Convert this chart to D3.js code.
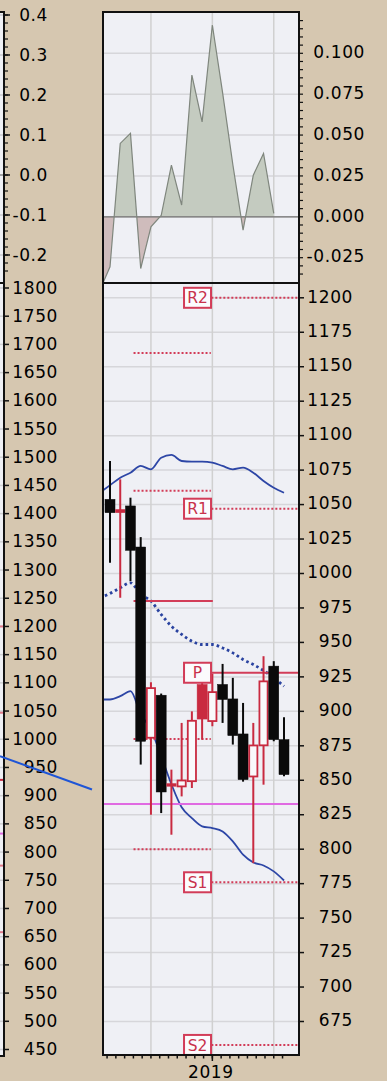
<!DOCTYPE html>
<html>
<head>
<meta charset="utf-8">
<script src="https://cdn.jsdelivr.net/npm/d3@7"></script>
<style>
  html, body { margin: 0; padding: 0; background: #d6c7b0; }
  svg { display: block; }
  text { font-family: "DejaVu Sans", Verdana, sans-serif; }
</style>
</head>
<body>
<svg id="chart" width="387" height="1081"></svg>
<script>
// ---- price candles (one per period, period 0..17) ----
const candleOpen  = [1053.8, 1044.0, 1049.0, 1019.2, 880.2, 911.7, 846.0, 844.9, 848.7, 919.5, 892.3, 919.5, 909.0, 883.6, 852.1, 874.7, 932.8, 879.5];
const candleHigh  = [1081.6, 1068.3, 1055.0, 1026.4, 921.1, 912.9, 857.7, 891.6, 900.0, 921.9, 927.2, 934.4, 924.3, 906.1, 891.6, 940.0, 936.4, 895.7];
const candleLow   = [1007.8, 982.4, 994.5, 861.4, 825.0, 826.2, 810.5, 838.3, 844.4, 879.5, 889.2, 891.6, 875.9, 849.0, 789.9, 846.8, 878.3, 852.9];
const candleClose = [1044.1, 1046.6, 1016.8, 878.3, 917.5, 841.5, 847.8, 850.5, 893.8, 894.4, 914.6, 908.6, 882.4, 850.5, 875.9, 922.4, 879.5, 854.1];

// ---- Bollinger bands, starting at period -1 ----
const bandStart  = -1;
const bandUpper  = [1058.5, 1064.0, 1069.5, 1073.1, 1078.0, 1075.6, 1084.0, 1086.0, 1081.6, 1081.1, 1081.1, 1080.4, 1078.0, 1075.6, 1076.8, 1073.1, 1067.1, 1062.2, 1058.6];
const bandMiddle = [982.2, 985.5, 989.6, 993.2, 984.8, 980.0, 970.3, 961.8, 955.8, 950.9, 948.5, 948.5, 946.0, 942.4, 937.6, 934.0, 929.6, 924.3, 918.2];
const bandLower  = [908.6, 908.6, 911.0, 914.6, 897.9, 887.0, 867.4, 847.1, 830.4, 822.6, 816.6, 815.3, 812.9, 805.7, 796.0, 790.4, 788.2, 783.9, 777.3];

// ---- oscillator, starting at period -1 ----
const oscStart  = -1;
const oscValues = [-0.045, -0.0306, 0.0449, 0.0510, -0.0316, -0.0061, 0.0008, 0.0316, 0.0072, 0.0867, 0.0581, 0.1173, 0.076, 0.032, -0.0081, 0.0255, 0.0388, 0.0021];

// ---- pivot levels ----
const pivotNames    = ["R2", "R1", "P", "S1", "S2"];
const pivotCurrent  = [1200, 1047, 928, 776, 658];
const pivotPrevious = [1160, 1060, 980, 880, 800];
const previousSpan  = [2.3, 9.85];
const currentSpan   = [9.9, 18.6];
const supportLevel  = 832.8;

// ---- axes ----
const gridPeriods  = [4, 10, 16];
const yearPeriods  = [10];
const yearLabels   = ["2019"];
const priceTicks   = d3.range(675, 1201, 25);
const oscTicks     = [-0.025, 0, 0.025, 0.05, 0.075, 0.1];
const leftOscTicks   = [-0.2, -0.1, 0, 0.1, 0.2, 0.3, 0.4];
const leftPriceTicks = d3.range(450, 1801, 50);

// ---- trend line of the neighbouring chart ----
const trendPos   = [0, 1];
const trendValue = [970, 911];

// ================= drawing =================
const svg = d3.select("#chart");
const RED = "#c92a40", BLACK = "#0a0a0a", PIV = "#d23c58", INK = "#000";
const panel = { left: 103, right: 299, top: 12, split: 283, bottom: 1055 };

const x = d3.scaleLinear().domain([0, 17]).range([110, 284]);
const yOsc = d3.scaleLinear().domain([-0.025, 0.1]).range([257.7, 53.3]);
const yPrice = d3.scaleLinear().domain([675, 1200]).range([1021.5, 297.8]);
const yLeftOsc = d3.scaleLinear().domain([-0.2, 0.4]).range([255, 15]);
const yLeftPrice = d3.scaleLinear().domain([450, 1800]).range([1049.5, 288]);
const xTrend = d3.scaleLinear().domain([0, 1]).range([0, 92]);

const hyphen = s => s.replace("\u2212", "-");
const fmtOsc = v => hyphen(d3.format(".3f")(v));
const fmtLeftOsc = v => hyphen(d3.format(".1f")(v));

const defs = svg.append("defs");
function clip(id, x0, y0, x1, y1) {
  defs.append("clipPath").attr("id", id).append("rect")
    .attr("x", x0).attr("y", y0).attr("width", x1 - x0).attr("height", y1 - y0);
}
clip("oscClip", panel.left, panel.top, panel.right, panel.split);
clip("priceClip", panel.left, panel.split, panel.right, panel.bottom);
clip("posClip", panel.left, panel.top, panel.right, yOsc(0));
clip("negClip", panel.left, yOsc(0), panel.right, panel.split);

// panel background
svg.append("rect").attr("x", panel.left).attr("y", panel.top)
  .attr("width", panel.right - panel.left).attr("height", panel.bottom - panel.top)
  .attr("fill", "#eff0f5");

// ---------- oscillator panel ----------
const gOsc = svg.append("g").attr("clip-path", "url(#oscClip)");
gOsc.selectAll(".hg").data(oscTicks).join("line")
  .attr("x1", panel.left).attr("x2", panel.right)
  .attr("y1", d => yOsc(d)).attr("y2", d => yOsc(d))
  .attr("stroke", "#d6d6da").attr("stroke-width", 1.5);
gOsc.selectAll(".vg").data(gridPeriods).join("line")
  .attr("x1", d => x(d)).attr("x2", d => x(d))
  .attr("y1", panel.top).attr("y2", panel.split)
  .attr("stroke", "#d0d0d0").attr("stroke-width", 1.5);

const oscPts = oscValues.map((v, k) => ({ i: oscStart + k, v }));
const oscArea = d3.area().x(d => x(d.i)).y0(yOsc(0)).y1(d => yOsc(d.v));
gOsc.append("g").attr("clip-path", "url(#posClip)")
  .append("path").attr("d", oscArea(oscPts)).attr("fill", "#c4cbc0");
gOsc.append("g").attr("clip-path", "url(#negClip)")
  .append("path").attr("d", oscArea(oscPts)).attr("fill", "#cfbcbc");
gOsc.append("line").attr("x1", panel.left).attr("x2", panel.right)
  .attr("y1", yOsc(0)).attr("y2", yOsc(0)).attr("stroke", "#707070").attr("stroke-width", 1.2);
gOsc.append("path").attr("d", d3.line().x(d => x(d.i)).y(d => yOsc(d.v))(oscPts))
  .attr("fill", "none").attr("stroke", "#7f867d").attr("stroke-width", 1.2);

// ---------- price panel ----------
const gP = svg.append("g").attr("clip-path", "url(#priceClip)");
gP.selectAll(".hg").data(priceTicks).join("line")
  .attr("x1", panel.left).attr("x2", panel.right)
  .attr("y1", d => yPrice(d)).attr("y2", d => yPrice(d))
  .attr("stroke", "#d6d6da").attr("stroke-width", 1.5);
gP.selectAll(".vg").data(gridPeriods).join("line")
  .attr("x1", d => x(d)).attr("x2", d => x(d))
  .attr("y1", panel.split).attr("y2", panel.bottom)
  .attr("stroke", "#d0d0d0").attr("stroke-width", 1.5);

// Bollinger bands
const bandLine = d3.line().x(d => x(d.i)).y(d => yPrice(d.v)).curve(d3.curveMonotoneX);
const toPts = arr => arr.map((v, k) => ({ i: bandStart + k, v }));
gP.append("path").attr("d", bandLine(toPts(bandUpper)))
  .attr("fill", "none").attr("stroke", "#2d46a6").attr("stroke-width", 1.8);
gP.append("path").attr("d", bandLine(toPts(bandLower)))
  .attr("fill", "none").attr("stroke", "#2d46a6").attr("stroke-width", 1.8);
gP.append("path").attr("d", bandLine(toPts(bandMiddle)))
  .attr("fill", "none").attr("stroke", "#2a43a0").attr("stroke-width", 2.8)
  .attr("stroke-dasharray", "2.6,3");

// pivot levels of the previous period
pivotPrevious.forEach((v, k) => {
  const solid = pivotNames[k] === "P";
  gP.append("line")
    .attr("x1", x(previousSpan[0])).attr("x2", x(previousSpan[1]) + (solid ? 2 : 0))
    .attr("y1", yPrice(v)).attr("y2", yPrice(v))
    .attr("stroke", PIV).attr("stroke-width", 2)
    .attr("stroke-dasharray", solid ? null : "2,2");
});

// support line
gP.append("line").attr("x1", panel.left).attr("x2", panel.right)
  .attr("y1", yPrice(supportLevel)).attr("y2", yPrice(supportLevel))
  .attr("stroke", "#e06ae2").attr("stroke-width", 2);

// pivot levels of the current period
pivotCurrent.forEach((v, k) => {
  const solid = pivotNames[k] === "P";
  gP.append("line")
    .attr("x1", x(currentSpan[0])).attr("x2", x(currentSpan[1]))
    .attr("y1", yPrice(v)).attr("y2", yPrice(v))
    .attr("stroke", PIV).attr("stroke-width", 2)
    .attr("stroke-dasharray", solid ? null : "2,2");
});

// candles
const candles = candleOpen.map((o, i) => {
  const ref = i === 0 ? o : candleClose[i - 1];
  const close = candleClose[i];
  return { i, open: o, high: candleHigh[i], low: candleLow[i], close,
           color: close >= ref ? RED : BLACK, hollow: close > o };
});
const bodyW = 10;
const gC = gP.append("g");
gC.selectAll(".wick").data(candles).join("line")
  .attr("x1", d => x(d.i)).attr("x2", d => x(d.i))
  .attr("y1", d => yPrice(d.high)).attr("y2", d => yPrice(d.low))
  .attr("stroke", d => d.color).attr("stroke-width", 2);
gC.selectAll(".body").data(candles).join("rect")
  .attr("x", d => x(d.i) - bodyW / 2 + (d.hollow ? 0.9 : 0))
  .attr("width", d => bodyW - (d.hollow ? 1.8 : 0))
  .attr("y", d => yPrice(Math.max(d.open, d.close)) + (d.hollow ? 0.9 : 0))
  .attr("height", d => Math.max(1.5, Math.abs(yPrice(d.open) - yPrice(d.close)) - (d.hollow ? 1.8 : 0)))
  .attr("fill", d => d.hollow ? "#f9f9fb" : d.color)
  .attr("stroke", d => d.color)
  .attr("stroke-width", d => d.hollow ? 1.8 : 0.5);

// pivot name tags
const tagW = 27, tagH = 20;
pivotCurrent.forEach((v, k) => {
  const xr = x(currentSpan[0]) - 0.3;
  const g = gP.append("g");
  g.append("rect").attr("x", xr - tagW).attr("y", yPrice(v) - tagH / 2)
    .attr("width", tagW).attr("height", tagH)
    .attr("fill", "#fbfbfd").attr("stroke", PIV).attr("stroke-width", 2);
  g.append("text").attr("x", xr - tagW / 2).attr("y", yPrice(v))
    .attr("dy", "0.36em").attr("text-anchor", "middle")
    .attr("font-size", 15.5).attr("fill", "#c8324c")
    .text(pivotNames[k]);
});

// ---------- frame ----------
svg.append("rect").attr("x", panel.left).attr("y", panel.top)
  .attr("width", panel.right - panel.left).attr("height", panel.bottom - panel.top)
  .attr("fill", "none").attr("stroke", "#111").attr("stroke-width", 2);
svg.append("line").attr("x1", panel.left).attr("x2", panel.right)
  .attr("y1", panel.split).attr("y2", panel.split).attr("stroke", "#111").attr("stroke-width", 2);

// ---------- right axes ----------
const oscMinor = d3.range(-8, 25).map(k => k * 0.005)
  .filter(v => yOsc(v) > panel.top + 2 && yOsc(v) < panel.split - 2);
svg.selectAll(".oscMinor").data(oscMinor).join("line")
  .attr("x1", panel.right).attr("x2", panel.right + 4)
  .attr("y1", d => yOsc(d)).attr("y2", d => yOsc(d))
  .attr("stroke", "#111").attr("stroke-width", 1.2);
svg.selectAll(".oscLab").data(oscTicks).join("text")
  .attr("x", 365).attr("y", d => yOsc(d)).attr("dy", "0.28em")
  .attr("text-anchor", "end").attr("font-size", 17).attr("letter-spacing", 0.6)
  .attr("fill", INK).text(fmtOsc);

svg.selectAll(".pTick").data(priceTicks).join("line")
  .attr("x1", panel.right).attr("x2", panel.right + 5)
  .attr("y1", d => yPrice(d)).attr("y2", d => yPrice(d))
  .attr("stroke", "#111").attr("stroke-width", 1.5);
svg.selectAll(".pLab").data(priceTicks).join("text")
  .attr("x", 353).attr("y", d => yPrice(d)).attr("dy", "0.28em")
  .attr("text-anchor", "end").attr("font-size", 17).attr("letter-spacing", 0.6)
  .attr("fill", INK).text(d => d3.format("d")(d));

// ---------- bottom axis ----------
const xMinor = d3.range(-5, 16).map(k => gridPeriods[0] + k * 6 / 7);
svg.selectAll(".xMinor").data(xMinor).join("line")
  .attr("x1", d => x(d)).attr("x2", d => x(d))
  .attr("y1", panel.bottom).attr("y2", panel.bottom + 3.5)
  .attr("stroke", "#111").attr("stroke-width", 1.5);
svg.selectAll(".xMajor").data(yearPeriods).join("line")
  .attr("x1", d => x(d)).attr("x2", d => x(d))
  .attr("y1", panel.bottom).attr("y2", panel.bottom + 6)
  .attr("stroke", "#111").attr("stroke-width", 1.5);
svg.selectAll(".xLab").data(yearPeriods).join("text")
  .attr("x", d => x(d) - 1.5).attr("y", 1078)
  .attr("text-anchor", "middle").attr("font-size", 17).attr("letter-spacing", 0.6)
  .attr("fill", INK).text((d, k) => yearLabels[k]);

// ---------- neighbouring chart edge ----------
const edge = 4;
const gL = svg.append("g");
gL.append("rect").attr("x", 0).attr("y", panel.top).attr("width", edge).attr("height", panel.bottom + 1 - panel.top)
  .attr("fill", "#eff0f5");
// grid stubs inside its plot area
gL.selectAll(".lg1").data(leftOscTicks).join("line")
  .attr("x1", 0).attr("x2", edge - 1).attr("y1", d => yLeftOsc(d)).attr("y2", d => yLeftOsc(d))
  .attr("stroke", d => d === 0 ? "#888" : "#c9c9cc").attr("stroke-width", 1.5);
gL.selectAll(".lg2").data(leftPriceTicks).join("line")
  .attr("x1", 0).attr("x2", edge - 1).attr("y1", d => yLeftPrice(d)).attr("y2", d => yLeftPrice(d))
  .attr("stroke", "#cfcfd2").attr("stroke-width", 1.5);
// level marks reaching its edge
pivotCurrent.forEach((v, k) => {
  gL.append("line").attr("x1", 0).attr("x2", edge - 1)
    .attr("y1", yLeftPrice(v)).attr("y2", yLeftPrice(v))
    .attr("stroke", pivotNames[k] === "P" ? RED : "#e07a8a").attr("stroke-width", 2);
});
gL.append("line").attr("x1", 0).attr("x2", edge - 1)
  .attr("y1", yLeftPrice(supportLevel)).attr("y2", yLeftPrice(supportLevel))
  .attr("stroke", "#e06ae2").attr("stroke-width", 2);
// frame edge
gL.append("line").attr("x1", edge).attr("x2", edge).attr("y1", panel.top).attr("y2", panel.bottom + 1)
  .attr("stroke", "#111").attr("stroke-width", 2);
[panel.top, panel.split, panel.bottom + 1].forEach(yy => {
  gL.append("line").attr("x1", 0).attr("x2", edge + 1).attr("y1", yy).attr("y2", yy)
    .attr("stroke", "#111").attr("stroke-width", 2);
});
// its oscillator axis
const leftOscMinor = d3.range(-12, 22).map(k => k * 0.02)
  .filter(v => yLeftOsc(v) > panel.top + 2 && yLeftOsc(v) < panel.split - 2);
gL.selectAll(".loMinor").data(leftOscMinor).join("line")
  .attr("x1", edge).attr("x2", edge + 4).attr("y1", d => yLeftOsc(d)).attr("y2", d => yLeftOsc(d))
  .attr("stroke", "#111").attr("stroke-width", 1.2);
gL.selectAll(".loMajor").data(leftOscTicks).join("line")
  .attr("x1", edge).attr("x2", edge + 6).attr("y1", d => yLeftOsc(d)).attr("y2", d => yLeftOsc(d))
  .attr("stroke", "#111").attr("stroke-width", 1.5);
gL.selectAll(".loLab").data(leftOscTicks).join("text")
  .attr("x", 48).attr("y", d => yLeftOsc(d)).attr("dy", "0.33em")
  .attr("text-anchor", "end").attr("font-size", 17).attr("letter-spacing", 0.6)
  .attr("fill", INK).text(fmtLeftOsc);
// its price axis
gL.selectAll(".lpTick").data(leftPriceTicks).join("line")
  .attr("x1", edge + 1).attr("x2", edge + 5).attr("y1", d => yLeftPrice(d)).attr("y2", d => yLeftPrice(d))
  .attr("stroke", "#111").attr("stroke-width", 1.5);
gL.selectAll(".lpLab").data(leftPriceTicks).join("text")
  .attr("x", 58).attr("y", d => yLeftPrice(d)).attr("dy", "0.33em")
  .attr("text-anchor", "end").attr("font-size", 17).attr("letter-spacing", 0.6)
  .attr("fill", INK).text(d => d3.format("d")(d));
// trend line running past its edge
gL.append("path")
  .attr("d", d3.line().x((d, k) => xTrend(trendPos[k])).y(d => yLeftPrice(d))(trendValue))
  .attr("fill", "none").attr("stroke", "#1f55d6").attr("stroke-width", 2);
</script>
</body>
</html>
